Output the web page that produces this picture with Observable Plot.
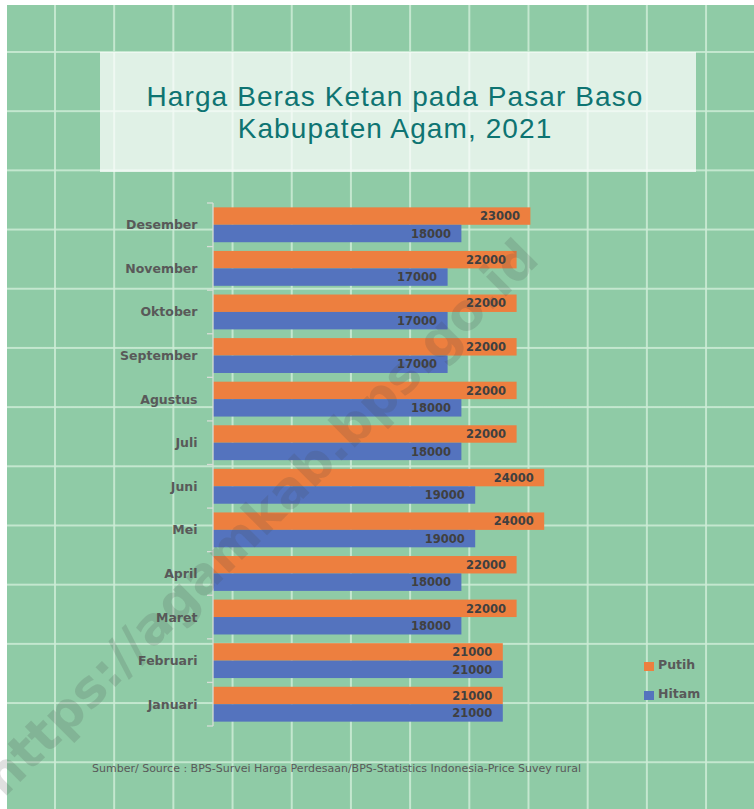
<!DOCTYPE html>
<html><head><meta charset="utf-8">
<script src="https://cdn.jsdelivr.net/npm/d3@7"></script>
<script src="https://cdn.jsdelivr.net/npm/@observablehq/plot@0.6"></script>
<style>
html,body{margin:0;padding:0;background:#fff;}
#page{position:relative;width:754px;height:809px;overflow:hidden;background:#fff;}
#bg{position:absolute;left:7px;top:5px;width:747px;height:804px;background-color:#8FCBA6;
 background-image:linear-gradient(to right, rgba(205,236,214,0.85) 2px, transparent 2px), linear-gradient(to bottom, rgba(205,236,214,0.85) 2px, transparent 2px);
 background-size:59.2px 59.2px; background-position:47px 46px;}
#titlebox{position:absolute;left:100px;top:52px;width:596px;height:120px;background:rgba(255,255,255,0.72);}
.tl{position:absolute;left:100px;width:590px;text-align:center;font-family:"Liberation Sans",Arial,sans-serif;font-size:28px;line-height:31px;height:31px;color:#0E7472;letter-spacing:1.1px;}
#t1{top:81px;}
#t2{top:113px;}
#chart{position:absolute;left:0;top:0;}
#legend{position:absolute;left:644px;top:657px;font-family:"DejaVu Sans",sans-serif;font-weight:bold;font-size:12.5px;color:#595959;}
#legend .it{position:relative;height:29px;}
#legend .sw{position:absolute;left:0;top:5px;width:10px;height:9px;}
#legend .lb{position:absolute;left:14px;top:0px;}
#source{position:absolute;left:92px;top:762px;font-family:"DejaVu Sans",sans-serif;font-size:11px;color:#595959;white-space:nowrap;}
#wm{position:absolute;left:-140px;top:488px;width:800px;text-align:center;font-family:"DejaVu Sans",sans-serif;font-weight:bold;font-size:51px;color:rgba(70,70,70,0.17);transform:rotate(-45deg);transform-origin:center;white-space:nowrap;pointer-events:none;}
svg [aria-label^="fy-axis"] text{font-weight:bold;fill:#595959;font-size:12.5px;}
</style>
</head><body>
<div id="page">
 <div id="bg"></div>
 <div id="titlebox"></div>
 <div class="tl" id="t1">Harga Beras Ketan pada Pasar Baso</div>
 <div class="tl" id="t2">Kabupaten Agam, 2021</div>
 <div id="chart"></div>
 <div id="legend"></div>
 <div id="source">Sumber/ Source : BPS-Survei Harga Perdesaan/BPS-Statistics Indonesia-Price Suvey rural</div>
 <div id="wm">https://agamkab.bps.go.id</div>
</div>
<script>
const months = ["Januari","Februari","Maret","April","Mei","Juni","Juli","Agustus","September","Oktober","November","Desember"];
const putih = [21000,21000,22000,22000,24000,24000,22000,22000,22000,22000,22000,23000];
const hitam = [21000,21000,18000,18000,19000,19000,18000,18000,17000,17000,17000,18000];
const seriesNames = ["Putih","Hitam"];
const seriesColors = ["#ED7F3F","#5473BE"];

const rows = months.flatMap((m,i)=>[
  {month:m, series:"Putih", value:putih[i]},
  {month:m, series:"Hitam", value:hitam[i]}
]);

const plot = Plot.plot({
  width:754, height:809,
  marginLeft:213, marginRight:127, marginTop:203, marginBottom:83,
  style:{background:"transparent", fontFamily:"DejaVu Sans, sans-serif", overflow:"visible"},
  facet:{data:rows, y:"month"},
  fy:{domain:months.slice().reverse(), paddingInner:0.2, paddingOuter:0.1, round:false, axis:"left", tickSize:0, tickPadding:16, label:null},
  y:{domain:seriesNames, padding:0, round:false, axis:null},
  x:{domain:[0,30000], axis:null},
  color:{domain:seriesNames, range:seriesColors},
  marks:[
    Plot.barX(rows,{y:"series", x:"value", fill:"series"}),
    Plot.text(rows,{y:"series", x:"value", text:d=>String(d.value), textAnchor:"end", dx:-11, fill:"#404040", fontWeight:"bold", fontSize:11.5})
  ]
});
document.getElementById("chart").appendChild(plot);

// axis line and category separators from the fy and x scales
const fys = plot.scale("fy");
const band = d3.scaleBand().domain(fys.domain).range(fys.range)
  .paddingInner(fys.paddingInner ?? 0.2).paddingOuter(fys.paddingOuter ?? 0.1)
  .align(fys.align ?? 0.5).round(!!fys.round);
const x0 = plot.scale("x").apply(0);
const half = band.step()*band.paddingInner()/2;
const bounds = fys.domain.map(m=>band(m)-half);
bounds.push(band(fys.domain[fys.domain.length-1]) + band.bandwidth() + half);
const svg = d3.select(plot);
const g = svg.append("g").attr("stroke","#D6DDD6").attr("stroke-width",1.3);
g.append("line").attr("x1",x0).attr("x2",x0).attr("y1",bounds[0]).attr("y2",bounds[bounds.length-1]);
bounds.forEach(b=>g.append("line").attr("x1",x0-6).attr("x2",x0).attr("y1",b).attr("y2",b));

// legend
const lg = d3.select("#legend");
seriesNames.forEach((s,i)=>{
  const it = lg.append("div").attr("class","it");
  it.append("div").attr("class","sw").style("background",seriesColors[i]);
  it.append("div").attr("class","lb").text(s);
});
</script>
</body></html>
